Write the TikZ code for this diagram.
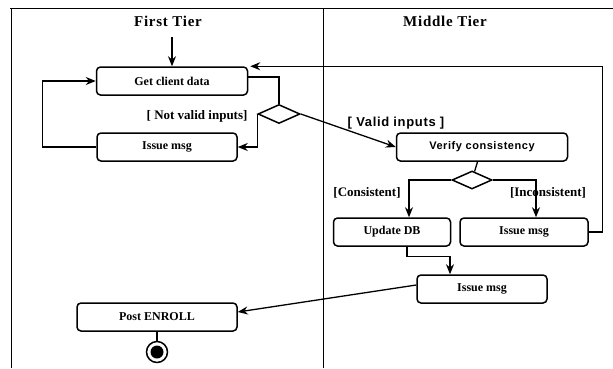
\documentclass[tikz,border=0pt]{standalone}
\usepackage{fontspec}
\setmainfont{Liberation Serif}
\newfontfamily\guardfont[LetterSpace=5]{Liberation Sans}
\newfontfamily\tierfont[LetterSpace=5]{Liberation Serif}
\usetikzlibrary{calc, arrows.meta, shapes.geometric}

\tikzset{
  activity/.style={draw, line width=1.5pt, rounded corners=4pt, inner sep=0pt, minimum height=28pt, font=\bfseries\fontsize{12}{14}\selectfont},
  branch/.style={draw, line width=1.5pt, diamond, inner sep=0pt, minimum width=42pt, minimum height=19pt},
  flow/.style={line width=1.3pt, -{Stealth[length=10pt,width=8pt]}},
  link/.style={line width=1.3pt},
  guard/.style={font=\bfseries\fontsize{13}{15}\selectfont},
  tier/.style={font=\tierfont\bfseries\fontsize{15}{17}\selectfont},
}

\begin{document}
\begin{tikzpicture}[x=1pt, y=-1pt]
\useasboundingbox (0,0) rectangle (613,368);
% Swimlanes
\draw[line width=1pt] (10,8) -- (613,8);
\draw[line width=1pt] (11,8) -- (11,368);
\draw[line width=1pt] (323,8) -- (323,368);
\node[tier] (first-tier) at (168,21) {First Tier};
\node[tier] (middle-tier) at (445,21) {Middle Tier};
% Activities
\coordinate (start) at (172,37);
\node[activity, minimum width=151pt] (get-data) at (172,81) {Get client data};
\node[activity, minimum width=140pt] (issue-left) at (167,147) {Issue msg};
\node[branch] (check-input) at (279,114) {};
\node[activity, minimum width=171pt, font=\guardfont\bfseries\fontsize{11}{13}\selectfont] (verify) at (482,147) {Verify consistency};
\node[branch, minimum width=40pt, minimum height=18pt] (check-db) at (472,180) {};
\node[activity, minimum width=117pt] (update-db) at (392,232) {Update DB};
\node[activity, minimum width=128pt] (issue-right) at (524,232) {Issue msg};
\node[activity, minimum width=130pt] (issue-done) at (482,289) {Issue msg};
\node[activity, minimum width=160pt] (post) at (157,317) {Post ENROLL};
\node[circle, draw, line width=1.5pt, minimum size=21pt, inner sep=0pt] (final) at (157,352) {};
\fill (final) circle (6.5pt);
% Guards
\node[guard, anchor=east] (not-valid) at (251,116) {[ Not valid inputs]};
\node[guard, font=\guardfont\bfseries\fontsize{13}{15}\selectfont] (valid) at (396,123) {[ Valid inputs ]};
\node[guard] (consistent) at (367,193) {[Consistent]};
\node[guard] (inconsistent) at (548,193) {[Inconsistent]};
% Flows
\draw[flow] (start) -- (get-data);
\draw[link] ([yshift=4pt]get-data.east) -| (check-input.north);
\draw[flow] (check-input.west) |- (issue-left.east);
\draw[flow] (issue-left.west) -- ++(-54,0) |- (get-data.west);
\draw[flow] (check-input.east) -- (verify.west);
\draw[link] (verify) -- (check-db);
\draw[flow] (check-db.west) -| ([xshift=17pt]update-db.north);
\draw[flow] (check-db.east) -| ([xshift=12pt]issue-right.north);
\draw[flow] ([xshift=15pt]update-db.south) -- ++(0,10) -| ([xshift=-32pt]issue-done.north);
\draw[flow] (issue-right.east) -- ++(14,0) |- ([xshift=2pt]get-data.north east);
\draw[flow] ([yshift=4pt]issue-done.west) -- ([yshift=5pt]post.east);
\draw[link] (post) -- (final);
\end{tikzpicture}
\end{document}
